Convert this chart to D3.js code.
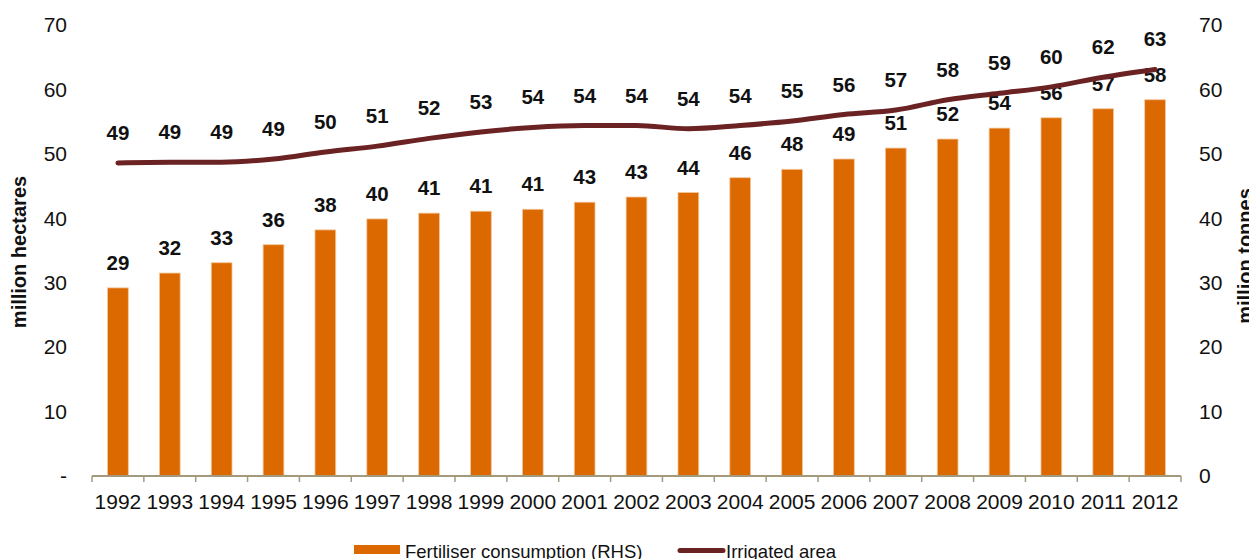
<!DOCTYPE html>
<html>
<head>
<meta charset="utf-8">
<script src="https://cdn.jsdelivr.net/npm/d3@7/dist/d3.min.js"></script>
<style>
  html, body { margin: 0; padding: 0; background: #fff; overflow: hidden; }
  svg { display: block; font-family: "Liberation Sans", Arial, sans-serif; }
</style>
</head>
<body>
<svg id="chart" width="1249" height="559"></svg>
<script>
const years = ["1992","1993","1994","1995","1996","1997","1998","1999","2000","2001","2002","2003","2004","2005","2006","2007","2008","2009","2010","2011","2012"];
const fertiliser = [29.2,31.5,33.1,35.9,38.2,39.9,40.8,41.1,41.4,42.5,43.3,44.0,46.3,47.6,49.2,50.9,52.3,54.0,55.6,57.0,58.4];
const irrigated = [48.6,48.7,48.7,49.2,50.3,51.2,52.4,53.4,54.1,54.4,54.4,53.9,54.4,55.1,56.1,56.8,58.4,59.4,60.4,61.9,63.1];
const leftTicks = [0,10,20,30,40,50,60,70];
const rightTicks = [0,10,20,30,40,50,60,70];
const leftTitle = "million hectares";
const rightTitle = "million tonnes";
const legendLabels = ["Fertiliser consumption (RHS)", "Irrigated area"];

(function () {
const barColor = "#dc6900";
const lineColor = "#6b2222";
const axisColor = "#a39a7e";
const FONT = "Liberation Sans, Arial, sans-serif";

const svg = d3.select("#chart");
const pL = 92, pR = 1181, pT = 25, pB = 476;

const x = d3.scaleBand().domain(years).range([pL, pR]).paddingInner(0.6).paddingOuter(0.3);
const xb = d3.scaleBand().domain(years).range([pL, pR]);
const yL = d3.scaleLinear().domain([0, 70]).range([pB, pT]);
const yR = d3.scaleLinear().domain([0, 70]).range([pB, pT]);

// bars (fertiliser, RHS)
svg.append("g").selectAll("rect").data(years).join("rect")
  .attr("x", d => x(d))
  .attr("y", (d, i) => yR(fertiliser[i]))
  .attr("width", x.bandwidth())
  .attr("height", (d, i) => pB - yR(fertiliser[i]))
  .attr("fill", barColor)
  .attr("stroke", "#f3c79c")
  .attr("stroke-width", 0.8);

// bar labels
svg.append("g").selectAll("text").data(years).join("text")
  .attr("x", d => x(d) + x.bandwidth() / 2)
  .attr("y", (d, i) => yR(fertiliser[i]) - 18)
  .attr("text-anchor", "middle")
  .attr("font-size", 20.5).attr("font-weight", "bold").attr("fill", "#111")
  .text((d, i) => Math.round(fertiliser[i]));

// line (irrigated, LHS)
const line = d3.line()
  .x((d, i) => xb(years[i]) + xb.bandwidth() / 2)
  .y(d => yL(d))
  .curve(d3.curveMonotoneX);
svg.append("path").datum(irrigated)
  .attr("d", line).attr("fill", "none")
  .attr("stroke", lineColor).attr("stroke-width", 5).attr("stroke-linecap", "round");

svg.append("g").selectAll("text").data(years).join("text")
  .attr("x", d => xb(d) + xb.bandwidth() / 2)
  .attr("y", (d, i) => yL(irrigated[i]) - 23)
  .attr("text-anchor", "middle")
  .attr("font-size", 20.5).attr("font-weight", "bold").attr("fill", "#111")
  .text((d, i) => Math.round(irrigated[i]));

// x axis
const xAxis = svg.append("g").attr("transform", `translate(0,${pB})`);
xAxis.append("line").attr("x1", pL).attr("x2", pR).attr("stroke", axisColor).attr("stroke-width", 2);
xAxis.selectAll("line.tk").data(years.concat(["end"])).join("line").attr("class", "tk")
  .attr("x1", (d, i) => pL + i * xb.step()).attr("x2", (d, i) => pL + i * xb.step())
  .attr("y1", 0).attr("y2", 6).attr("stroke", axisColor).attr("stroke-width", 1.5);
xAxis.selectAll("text").data(years).join("text")
  .attr("x", d => xb(d) + xb.bandwidth() / 2)
  .attr("y", 33)
  .attr("text-anchor", "middle")
  .attr("font-size", 21).attr("fill", "#111")
  .text(d => d);

// left axis
const gL = svg.append("g").attr("transform", `translate(67,0)`)
  .call(d3.axisLeft(yL).tickValues(leftTicks).tickSize(0).tickPadding(0).tickFormat(d => d === 0 ? "-" : d));
gL.select(".domain").remove();
gL.selectAll("text").attr("font-size", 21).attr("fill", "#111").attr("font-family", FONT);

// right axis
const gR = svg.append("g").attr("transform", `translate(1199,0)`)
  .call(d3.axisRight(yR).tickValues(rightTicks).tickSize(0).tickPadding(0));
gR.select(".domain").remove();
gR.selectAll("text").attr("font-size", 21).attr("fill", "#111").attr("font-family", FONT);

// axis titles
svg.append("text").attr("transform", "translate(26,252) rotate(-90)")
  .attr("text-anchor", "middle").attr("font-size", 20).attr("font-weight", "bold").attr("fill", "#111")
  .text(leftTitle);
svg.append("text").attr("transform", "translate(1252,256) rotate(-90)")
  .attr("text-anchor", "middle").attr("font-size", 20).attr("font-weight", "bold").attr("fill", "#111")
  .text(rightTitle);

// legend
const lg = svg.append("g");
lg.append("rect").attr("x", 354).attr("y", 545).attr("width", 46).attr("height", 9).attr("fill", barColor);
lg.append("text").attr("x", 405).attr("y", 558).attr("font-size", 18.5).attr("fill", "#111").text(legendLabels[0]);
lg.append("line").attr("x1", 680).attr("x2", 723).attr("y1", 550.5).attr("y2", 550.5)
  .attr("stroke", lineColor).attr("stroke-width", 5).attr("stroke-linecap", "round");
lg.append("text").attr("x", 726).attr("y", 558).attr("font-size", 18.5).attr("fill", "#111").text(legendLabels[1]);
})();
</script>
</body>
</html>
